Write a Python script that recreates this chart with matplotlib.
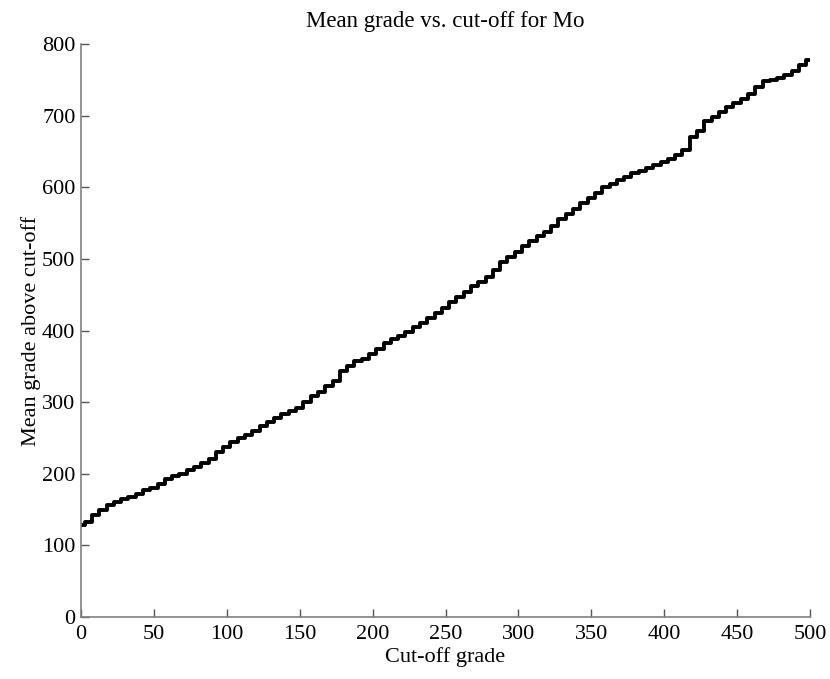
import matplotlib
matplotlib.use("Agg")
import matplotlib.pyplot as plt

cutoff = [0, 5, 10, 15, 20, 25, 30, 35, 40, 45, 50, 55, 60, 65, 70, 75, 80, 85, 90, 95,
          100, 105, 110, 115, 120, 125, 130, 135, 140, 145, 150, 155, 160, 165, 170, 175,
          180, 185, 190, 195, 200, 205, 210, 215, 220, 225, 230, 235, 240, 245, 250, 255,
          260, 265, 270, 275, 280, 285, 290, 295, 300, 305, 310, 315, 320, 325, 330, 335,
          340, 345, 350, 355, 360, 365, 370, 375, 380, 385, 390, 395, 400, 405, 410, 415,
          420, 425, 430, 435, 440, 445, 450, 455, 460, 465, 470, 475, 480, 485, 490, 495, 500]
mean_grade = [128, 133, 143, 150, 156, 160, 165, 168, 172, 177, 180, 186, 192, 197, 200, 205, 210, 215, 221, 230,
              238, 244, 250, 254, 260, 266, 272, 278, 283, 288, 292, 300, 308, 314, 322, 330,
              343, 350, 357, 360, 367, 374, 382, 388, 393, 398, 405, 411, 418, 425, 432, 440,
              447, 454, 462, 468, 475, 485, 495, 502, 510, 518, 525, 532, 538, 546, 555, 563,
              570, 578, 585, 592, 600, 605, 610, 615, 620, 623, 627, 631, 635, 640, 645, 652,
              670, 678, 693, 698, 705, 712, 718, 723, 730, 740, 748, 750, 752, 757, 762, 770, 778]

x_ticks = [0, 50, 100, 150, 200, 250, 300, 350, 400, 450, 500]
y_ticks = [0, 100, 200, 300, 400, 500, 600, 700, 800]

plt.rcParams['font.family'] = ['Liberation Serif', 'DejaVu Serif']

fig = plt.figure(figsize=(8.3, 6.79), dpi=100)
ax = fig.add_axes([81/830, 1-617/679, (810-81)/830, (617-44)/679])
ax.plot(cutoff, mean_grade, color='black', linewidth=2.8, drawstyle='steps-mid',
        solid_joinstyle='round', solid_capstyle='round')
ax.set_xlim(0, 500)
ax.set_ylim(0, 800)
ax.set_xticks(x_ticks)
ax.set_yticks(y_ticks)
ax.tick_params(direction='in', length=6, width=1, color='#555555', labelsize=16)
ax.tick_params(axis='x', pad=6)
ax.tick_params(axis='y', pad=4)
for s in ['top', 'right']:
    ax.spines[s].set_visible(False)
for s in ['left', 'bottom']:
    ax.spines[s].set_color('#808080')
    ax.spines[s].set_linewidth(1.2)
ax.set_title('Mean grade vs. cut-off for Mo', fontsize=16.5, pad=12)
ax.set_xlabel('Cut-off grade', fontsize=16, labelpad=2)
ax.set_ylabel('Mean grade above cut-off', fontsize=16, labelpad=1)
fig.savefig('out.png', dpi=100)
